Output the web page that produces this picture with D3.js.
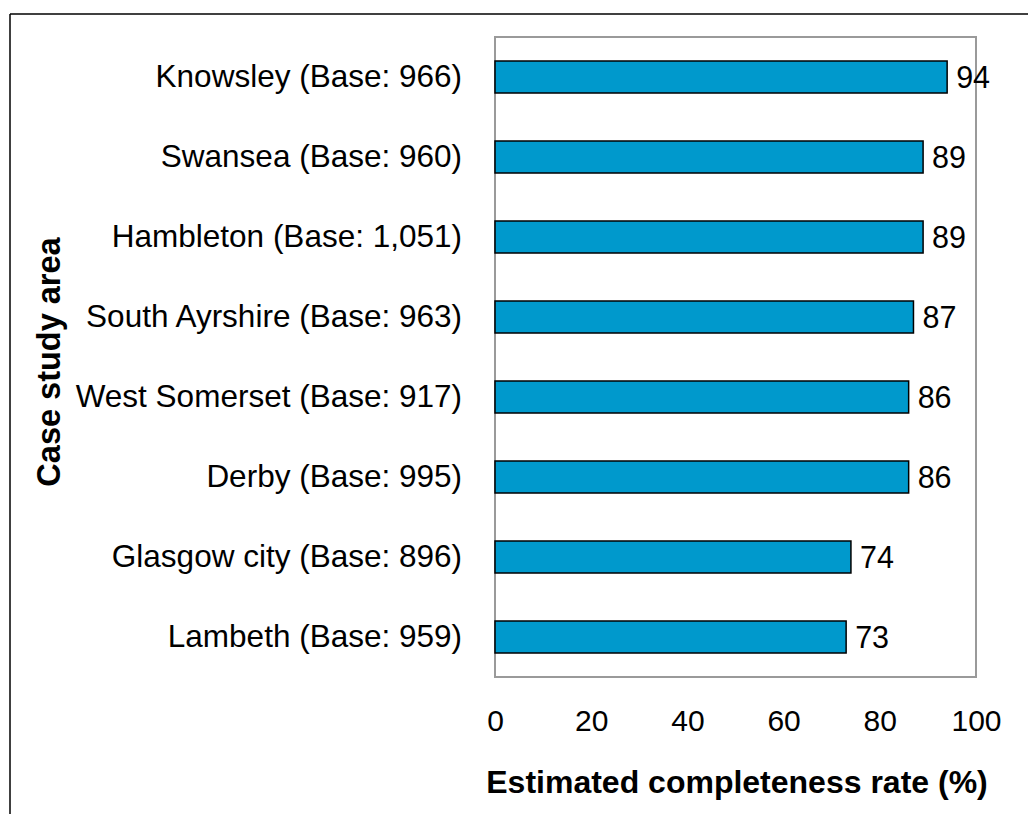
<!DOCTYPE html>
<html>
<head>
<meta charset="utf-8">
<script src="https://cdn.jsdelivr.net/npm/d3@7"></script>
<style>
  html, body { margin: 0; padding: 0; background: #fff; }
  svg { display: block; font-family: "Liberation Sans", Arial, sans-serif; }
</style>
</head>
<body>
<svg id="chart" width="1028" height="814"></svg>
<script>
const categories = [
  "Knowsley (Base: 966)",
  "Swansea (Base: 960)",
  "Hambleton (Base: 1,051)",
  "South Ayrshire (Base: 963)",
  "West Somerset (Base: 917)",
  "Derby (Base: 995)",
  "Glasgow city (Base: 896)",
  "Lambeth (Base: 959)"
];
const values = [94, 89, 89, 87, 86, 86, 74, 73];
const xTicks = [0, 20, 40, 60, 80, 100];
const xTitle = "Estimated completeness rate (%)";
const yTitle = "Case study area";

const svg = d3.select("#chart");
const plot = { left: 495, right: 976, top: 37, bottom: 677 };

// outer frame (top and left edges visible)
svg.append("line").attr("x1", 10).attr("x2", 1028).attr("y1", 14).attr("y2", 14)
  .attr("stroke", "#000").attr("stroke-width", 1.5);
svg.append("line").attr("x1", 10).attr("x2", 10).attr("y1", 14).attr("y2", 814)
  .attr("stroke", "#000").attr("stroke-width", 1.5);

const x = d3.scaleLinear().domain([0, 100]).range([plot.left, plot.right]);
const y = d3.scaleBand().domain(categories).range([plot.top, plot.bottom])
  .paddingInner(0.6).paddingOuter(0.3);

// plot area frame
svg.append("rect")
  .attr("x", plot.left).attr("y", plot.top)
  .attr("width", plot.right - plot.left).attr("height", plot.bottom - plot.top)
  .attr("fill", "none").attr("stroke", "#9a9a9a").attr("stroke-width", 2);

const data = categories.map((c, i) => ({ c, v: values[i] }));

svg.append("g").selectAll("rect").data(data).join("rect")
  .attr("x", x(0))
  .attr("y", d => y(d.c))
  .attr("width", d => x(d.v) - x(0))
  .attr("height", y.bandwidth())
  .attr("fill", "#0099cc")
  .attr("stroke", "#000").attr("stroke-width", 1.5);

// value labels
svg.append("g").selectAll("text").data(data).join("text")
  .attr("x", d => x(d.v) + 9)
  .attr("y", d => y(d.c) + y.bandwidth() / 2)
  .attr("dy", "0.36em")
  .attr("font-size", 30.5)
  .attr("fill", "#000")
  .text(d => d.v);

// category labels
const yAxis = d3.axisLeft(y).tickSize(0).tickPadding(0);
const gy = svg.append("g").attr("transform", `translate(${plot.left - 33},0)`).call(yAxis);
gy.select(".domain").remove();
gy.selectAll("text").attr("font-size", 31.5).attr("font-family", "'Liberation Sans', Arial, sans-serif").attr("fill", "#000");

// x axis ticks
const xAxis = d3.axisBottom(x).tickValues(xTicks).tickSize(0).tickPadding(0).tickFormat(d3.format("d"));
const gx = svg.append("g").attr("transform", `translate(0,${plot.bottom + 33})`).call(xAxis);
gx.select(".domain").remove();
gx.selectAll("text").attr("font-size", 30).attr("font-family", "'Liberation Sans', Arial, sans-serif").attr("fill", "#000");

// axis titles
svg.append("text")
  .attr("x", 737).attr("y", 781).attr("dy", "0.36em")
  .attr("text-anchor", "middle").attr("font-size", 32).attr("font-weight", "bold")
  .text(xTitle);

svg.append("text")
  .attr("transform", "translate(48,362) rotate(-90)")
  .attr("dy", "0.36em")
  .attr("text-anchor", "middle").attr("font-size", 32.5).attr("font-weight", "bold")
  .text(yTitle);
</script>
</body>
</html>
